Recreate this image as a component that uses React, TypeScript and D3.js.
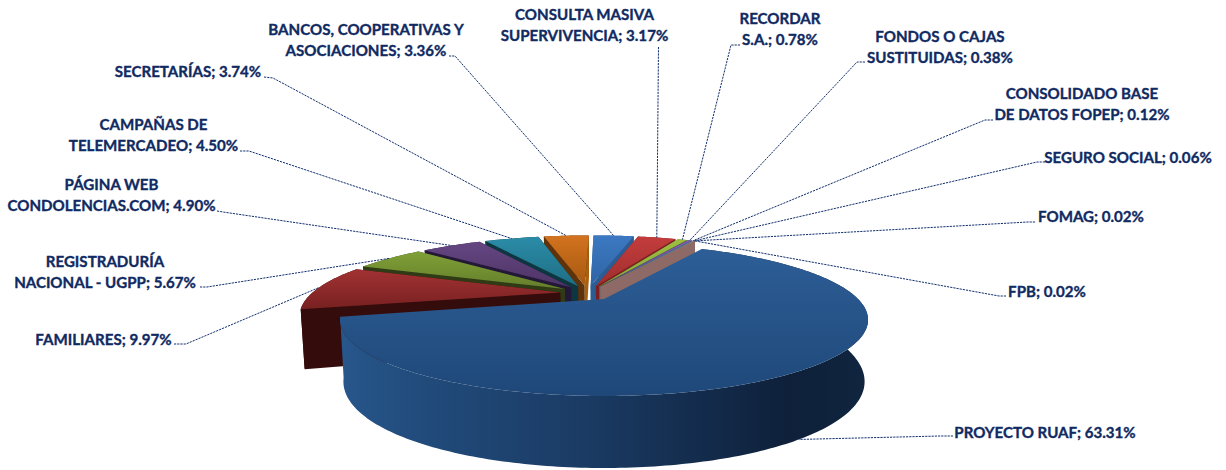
import React from "react";
import * as d3 from "d3";

// ---------- data ----------
const categoryLines: string[][] = [
  ["PROYECTO RUAF"],
  ["FAMILIARES"],
  ["REGISTRADURÍA", "NACIONAL - UGPP"],
  ["PÁGINA WEB", "CONDOLENCIAS.COM"],
  ["CAMPAÑAS DE", "TELEMERCADEO"],
  ["SECRETARÍAS"],
  ["BANCOS, COOPERATIVAS Y", "ASOCIACIONES"],
  ["CONSULTA MASIVA", "SUPERVIVENCIA"],
  ["RECORDAR", "S.A."],
  ["FONDOS O CAJAS", "SUSTITUIDAS"],
  ["CONSOLIDADO BASE", "DE DATOS FOPEP"],
  ["SEGURO SOCIAL"],
  ["FOMAG"],
  ["FPB"],
];
const shares = [63.31, 9.97, 5.67, 4.9, 4.5, 3.74, 3.36, 3.17, 0.78, 0.38, 0.12, 0.06, 0.02, 0.02];

// ---------- styles ----------
const topLight = ["#2d5e97", "#a23233", "#80a037", "#654682", "#2b8ca8", "#d3731f", "#3c79c2", "#c43c3c", "#9dbd42", "#7f5ca8", "#38a6c4", "#f09040", "#6f9bd4", "#d99694"];
const topDark = ["#1f4879", "#782021", "#647e2b", "#4d3465", "#1e6e84", "#a55810", "#2f64a4", "#a02e2e", "#8aa838", "#6a4a90", "#2d8aa4", "#d07830", "#5c86bc", "#c07c7a"];
const wallColor = ["#1a3a62", "#350c0c", "#2f3b14", "#241838", "#0e3640", "#5e330c", "#2c5c94", "#7a2020", "#5f7526", "#4a3466", "#1f6478", "#8e5520", "#46648c", "#8e6a66"];
const sideColor = ["#1a3a62", "#350c0c", "#2f3b14", "#241838", "#0e3640", "#a8600f", "#2c5c94", "#7a2020", "#5f7526", "#4a3466", "#1f6478", "#8e5520", "#46648c", "#8e6a66"];
const textColor = "#102a62";
const leaderColor = "#12306c";

// ---------- label layout (centre x, first baseline y, leader elbow points from the label) ----------
const labelX = [1045, 103.5, 105, 111.5, 153.5, 188, 366, 584.5, 780, 940, 1082, 1128, 1091, 1047];
const labelY = [438, 345, 267, 190, 130, 77, 35, 20, 24, 42, 99, 163, 222, 297];
const leaderStart: [number, number][][] = [
  [[953, 436], [940, 436]],
  [[174, 344], [186, 344]],
  [[200, 287], [207, 287]],
  [[217, 211], [223, 212]],
  [[240, 151], [249, 151]],
  [[264, 77], [273, 78]],
  [[449, 56], [455, 56]],
  [[658.5, 47], [658.5, 47]],
  [[740, 45], [731, 45]],
  [[865, 62], [857, 62]],
  [[993, 120], [985, 120]],
  [[1045, 162], [1037, 162]],
  [[1035, 222], [1028, 222]],
  [[1006, 296], [999, 296]],
];
const LINE_H = 21;
const FONT_SIZE = 15.1;

// ---------- projection: plan coordinates (unit radius pie) -> screen ----------
const CX = 604, CY = 299, PERSP = 0.273;
const xScale = d3.scaleLinear().domain([0, 1]).range([0, 254]);
const yScale = d3.scaleLinear().domain([0, 1]).range([0, 70.5]);
const wallDrop = d3.scaleLinear().domain([0, 1]).range([58, 72]);
const EXPLODE = 0.11;
const ROTATION = (28.5 * Math.PI) / 180;

type P = [number, number];
const projectTop = (u: number, v: number): P => {
  const s = 1 / (1 - PERSP * v);
  return [CX + xScale(u) * s, CY + yScale(v) * s];
};
const projectBottom = (u: number, v: number): P => {
  const [x, y] = projectTop(u, v);
  return [CX + (x - CX) * 0.987, y + wallDrop(v)];
};

const arcs = d3
  .pie<number>()
  .sort(null)
  .value((d) => d)
  .startAngle(ROTATION)
  .endAngle(ROTATION + 2 * Math.PI)(shares);

const line = d3.line<P>();

const geometry = arcs.map((a) => {
  const mid = (a.startAngle + a.endAngle) / 2;
  // pie centre sits opposite the largest slice's explosion, so that slice lands on (CX, CY)
  const big = (arcs[0].startAngle + arcs[0].endAngle) / 2;
  const u0 = -EXPLODE * Math.sin(big) + EXPLODE * Math.sin(mid);
  const v0 = EXPLODE * Math.cos(big) - EXPLODE * Math.cos(mid);
  const n = Math.max(2, Math.ceil((a.endAngle - a.startAngle) * 60));
  const rim: [number, number][] = d3.range(n + 1).map((i) => {
    const t = a.startAngle + ((a.endAngle - a.startAngle) * i) / n;
    return [u0 + Math.sin(t), v0 - Math.cos(t)];
  });
  const apex: [number, number] = [u0, v0];
  const top = (p: [number, number]) => projectTop(p[0], p[1]);
  const bot = (p: [number, number]) => projectBottom(p[0], p[1]);
  const topPath = line([top(apex), ...rim.map(top)]) + "Z";
  const rimWall = line([...rim.map(top), ...rim.map(bot).reverse()]) + "Z";
  const startWall = line([top(apex), top(rim[0]), bot(rim[0]), bot(apex)]) + "Z";
  const endWall = line([top(apex), top(rim[n]), bot(rim[n]), bot(apex)]) + "Z";
  const midPlan: [number, number] = [u0 + Math.sin(mid), v0 - Math.cos(mid)];
  const anchor = mid > Math.PI * 0.5 + ROTATION && mid < Math.PI ? bot(midPlan) : top(midPlan);
  return { topPath, rimWall, startWall, endWall, anchor };
});

// far slices first; the largest slice is painted last because it is nearest
const paintOrder = [5, 4, 3, 2, 1, 6, 7, 8, 9, 10, 11, 12, 13, 0];

export default function App() {
  return (
    <svg width={1226} height={470} viewBox="0 0 1226 470" style={{ position: "absolute", left: 0, top: 0, display: "block", background: "#fff" }}>
      <defs>
        {shares.map((_, i) => (
          <linearGradient key={i} id={`top${i}`} x1="0" y1="0" x2="0" y2="1">
            <stop offset="0" stopColor={topLight[i]} />
            <stop offset="1" stopColor={topDark[i]} />
          </linearGradient>
        ))}
        <linearGradient id="bigWall" gradientUnits="userSpaceOnUse" x1={340} y1={0} x2={868} y2={0}>
          <stop offset="0" stopColor="#28578c" />
          <stop offset="0.12" stopColor="#224d7e" />
          <stop offset="0.48" stopColor="#1a3a62" />
          <stop offset="0.85" stopColor="#0e203a" />
          <stop offset="1" stopColor="#10253f" />
        </linearGradient>
      </defs>

      {paintOrder.map((i) => {
        const g = geometry[i];
        const wall = i === 0 ? "url(#bigWall)" : wallColor[i];
        return (
          <g key={i}>
            <path d={g.rimWall} fill={wall} />
            <path d={g.startWall} fill={i > 5 ? sideColor[i] : wallColor[i]} stroke="none" opacity={i === 0 ? 0 : 1} />
            <path d={g.endWall} fill={sideColor[i]} opacity={i === 0 ? 0 : 1} />
            <path d={g.topPath} fill={`url(#top${i})`} />
          </g>
        );
      })}

      {geometry.map((g, i) => (
        <path
          key={i}
          d={line([...leaderStart[i], g.anchor]) ?? ""}
          fill="none"
          stroke={leaderColor}
          strokeWidth={1}
          strokeDasharray="2.2 1"
        />
      ))}

      {categoryLines.map((ls, i) => (
        <text
          key={i}
          textAnchor="middle"
          fontFamily="Lato, Carlito, sans-serif"
          fontWeight={700}
          fontSize={FONT_SIZE}
          fill={textColor}
          stroke={textColor}
          strokeWidth={0.35}
        >
          {ls.map((l, j) => (
            <tspan key={j} x={labelX[i]} y={labelY[i] + j * LINE_H}>
              {j === ls.length - 1 ? `${l}; ${shares[i].toFixed(2)}%` : l}
            </tspan>
          ))}
        </text>
      ))}
    </svg>
  );
}
